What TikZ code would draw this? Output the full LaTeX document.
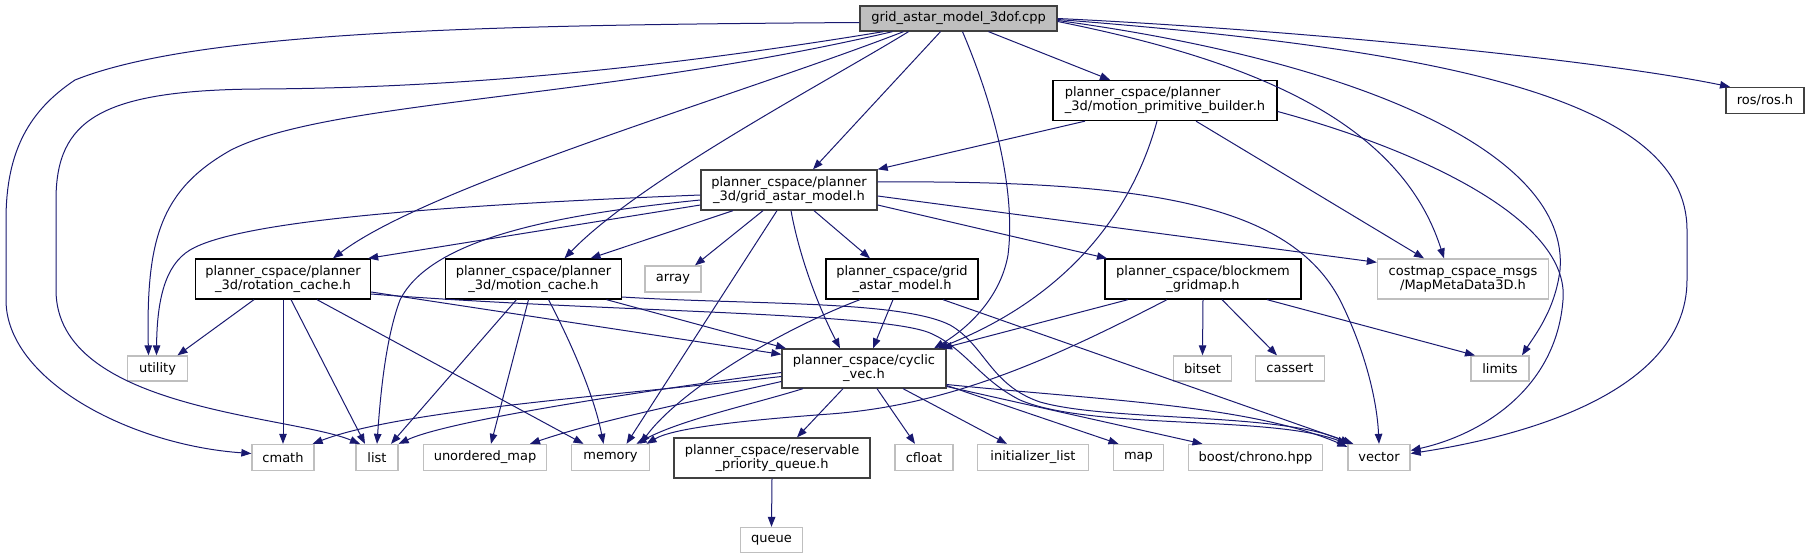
\documentclass[tikz,border=0pt]{standalone}
\usepackage{fontspec}
\setmainfont{DejaVu Sans}
\usepackage{tikz}
\usetikzlibrary{arrows.meta}
\definecolor{edgeblue}{HTML}{191970}
\definecolor{boxdark}{HTML}{404040}
\definecolor{boxgray}{HTML}{BFBFBF}
\tikzstyle{incl} = [draw=edgeblue, line width=1pt, -{Triangle[length=10pt,width=7.5pt]}]
\tikzstyle{incbox} = [draw=black, line width=1.3pt, fill=white, inner sep=0pt, align=center]
\tikzstyle{sysbox} = [incbox, draw=boxgray]
\tikzstyle{darkbox} = [incbox, draw=boxdark]
\tikzstyle{rootbox} = [incbox, draw=boxdark, fill=boxgray]

\begin{document}
\begin{tikzpicture}[x=1pt, y=-1pt, font=\fontsize{13}{14}\selectfont]

	\useasboundingbox (0,0) rectangle (1810,559);

	\def\ya{18.5}
	\def\yb{100.5}
	\def\yc{190}
	\def\yd{279}
	\def\ye{368.5}
	\def\yf{457.5}
	\def\yg{540}

	\node[rootbox, minimum width=197pt, minimum height=25pt] (root) at (958.5,\ya) {grid\_astar\_model\_3dof.cpp};

	\node[incbox, align=left, minimum width=224pt, minimum height=40pt] (mpb) at (1165,\yb) {planner\_cspace/planner\\\_3d/motion\_primitive\_builder.h};
	\node[darkbox, minimum width=78pt, minimum height=26pt] (ros) at (1765,\yb) {ros/ros.h};

	\node[darkbox, minimum width=176pt, minimum height=40pt] (gamtd) at (789,\yc) {planner\_cspace/planner\\\_3d/grid\_astar\_model.h};

	\node[incbox, minimum width=175pt, minimum height=40pt] (rot) at (283,\yd) {planner\_cspace/planner\\\_3d/rotation\_cache.h};
	\node[incbox, minimum width=176pt, minimum height=40pt] (mc) at (533.5,\yd) {planner\_cspace/planner\\\_3d/motion\_cache.h};
	\node[sysbox, minimum width=56pt, minimum height=26pt] (array) at (673,\yd) {array};
	\node[incbox, minimum width=152pt, minimum height=40pt] (gam) at (902,\yd) {planner\_cspace/grid\\\_astar\_model.h};
	\node[incbox, minimum width=196pt, minimum height=40pt] (bgm) at (1203,\yd) {planner\_cspace/blockmem\\\_gridmap.h};
	\node[sysbox, minimum width=171pt, minimum height=40pt] (costmap) at (1463,\yd) {costmap\_cspace\_msgs\\/MapMetaData3D.h};

	\node[sysbox, minimum width=60pt, minimum height=25pt] (utility) at (157.5,\ye) {utility};
	\node[darkbox, minimum width=164pt, minimum height=39pt] (cyclic) at (864,\ye) {planner\_cspace/cyclic\\\_vec.h};
	\node[sysbox, minimum width=58pt, minimum height=25pt] (bitset) at (1202.5,\ye) {bitset};
	\node[sysbox, minimum width=69pt, minimum height=25pt] (cassert) at (1290,\ye) {cassert};
	\node[sysbox, minimum width=58pt, minimum height=25pt] (limits) at (1500,\ye) {limits};

	\node[sysbox, minimum width=62pt, minimum height=26pt] (cmath) at (283,\yf) {cmath};
	\node[sysbox, minimum width=42pt, minimum height=26pt] (list) at (377,\yf) {list};
	\node[sysbox, minimum width=123pt, minimum height=26pt] (umap) at (485,\yf) {unordered\_map};
	\node[sysbox, minimum width=78pt, minimum height=26pt] (memory) at (610.5,\yf) {memory};
	\node[darkbox, minimum width=196pt, minimum height=40pt] (rpq) at (772,458) {planner\_cspace/reservable\\\_priority\_queue.h};
	\node[sysbox, minimum width=58pt, minimum height=26pt] (cfloat) at (924,\yf) {cfloat};
	\node[sysbox, minimum width=111pt, minimum height=26pt] (initlist) at (1033,\yf) {initializer\_list};
	\node[sysbox, minimum width=50pt, minimum height=26pt] (map) at (1138.5,\yf) {map};
	\node[sysbox, minimum width=134pt, minimum height=26pt] (chrono) at (1255.5,\yf) {boost/chrono.hpp};
	\node[sysbox, minimum width=62pt, minimum height=26pt] (vector) at (1379,\yf) {vector};

	\node[sysbox, minimum width=62pt, minimum height=25pt] (queue) at (771.5,\yg) {queue};

	% grid_astar_model_3dof.cpp
	\path[incl] ([yshift=-4pt]root.west) .. controls (500,25) and (200,30) .. (75,80) .. controls (30,110) and (6,150) .. (6,220) -- (6,300) .. controls (6,380) and (130,445) .. ([yshift=4pt]cmath.west);
	\path[incl] ([xshift=-75pt]root.south) .. controls (650,70) and (450,88) .. (260,89) .. controls (100,90) and (56,120) .. (56,200) -- (56,290) .. controls (56,410) and (290,415) .. ([xshift=-17pt]list.north);
	\path[incl] ([xshift=-66pt]root.south) .. controls (600,100) and (330,100) .. (231,150) .. controls (160,190) and (146,240) .. ([xshift=-9pt]utility.north);
	\path[incl] ([xshift=-55pt]root.south) .. controls (740,95) and (430,185) .. ([xshift=50pt]rot.north);
	\path[incl] ([xshift=-50pt]root.south) .. controls (830,80) and (640,180) .. ([xshift=31pt]mc.north);
	\path[incl] ([xshift=-18pt]root.south) -- ([xshift=24pt]gamtd.north);
	\path[incl] ([xshift=4pt]root.south) .. controls (1000,120) and (1015,200) .. (1008,255) .. controls (1000,300) and (965,330) .. ([xshift=70pt]cyclic.north);
	\path[incl] ([xshift=30pt]root.south) -- ([xshift=-55pt]mpb.north);
	\path[incl] ([yshift=-3pt]root.east) .. controls (1250,60) and (1400,120) .. ([xshift=-19pt]costmap.north);
	\path[incl] ([yshift=-2pt]root.east) .. controls (1350,60) and (1570,150) .. (1560,270) .. controls (1555,310) and (1535,335) .. ([xshift=22pt]limits.north);
	\path[incl] ([yshift=-1pt]root.east) .. controls (1450,50) and (1687,100) .. (1687,230) -- (1687,280) .. controls (1687,400) and (1500,440) .. ([yshift=4pt]vector.east);
	\path[incl] (root.east) .. controls (1300,30) and (1600,60) .. ([xshift=-35pt]ros.north);

	% motion_primitive_builder.h
	\path[incl] ([xshift=-80pt]mpb.south) -- (gamtd.north east);
	\path[incl] ([xshift=-8pt]mpb.south) .. controls (1130,220) and (1060,300) .. ([xshift=74pt]cyclic.north);
	\path[incl] ([xshift=31pt]mpb.south) -- ([xshift=-39pt]costmap.north);
	\path[incl] ([yshift=-11pt]mpb.east) .. controls (1420,150) and (1570,220) .. (1563,300) .. controls (1556,390) and (1480,435) .. ([yshift=7pt]vector.east);

	% planner_3d/grid_astar_model.h
	\path[incl] ([yshift=-5pt]gamtd.west) .. controls (450,205) and (240,220) .. (190,250) .. controls (165,265) and (157,300) .. ([xshift=-1pt]utility.north);
	\path[incl] ([yshift=-15pt]gamtd.west) -- ([xshift=-3pt]rot.north east);
	\path[incl] ([yshift=-10pt]gamtd.west) .. controls (550,215) and (430,240) .. (400,300) .. controls (385,340) and (380,400) .. (list.north);
	\path[incl] ([xshift=-56pt]gamtd.south) -- ([xshift=57pt]mc.north);
	\path[incl] ([xshift=-26pt]gamtd.south) -- ([xshift=22pt]array.north);
	\path[incl] ([xshift=-12pt]gamtd.south) -- ([xshift=16pt]memory.north);
	\path[incl] ([xshift=2pt]gamtd.south) .. controls (800,260) and (820,310) .. ([xshift=-24pt]cyclic.north);
	\path[incl] ([xshift=25pt]gamtd.south) -- ([xshift=-32pt]gam.north);
	\path[incl] ([yshift=-15pt]gamtd.east) -- ([xshift=-96pt]bgm.north);
	\path[incl] ([yshift=-6pt]gamtd.east) -- ([yshift=-4pt]costmap.north west);
	\path[incl] ([yshift=8pt]gamtd.east) .. controls (1150,180) and (1290,205) .. (1340,300) .. controls (1365,350) and (1377,400) .. (vector.north);

	% rotation_cache.h
	\path[incl] ([xshift=-29pt]rot.south) -- ([xshift=20pt]utility.north);
	\path[incl] (rot.south) -- (cmath.north);
	\path[incl] ([xshift=8pt]rot.south) -- ([xshift=-12pt]list.north);
	\path[incl] ([xshift=34pt]rot.south) -- ([xshift=-27pt]memory.north);
	\path[incl] ([yshift=-13pt]rot.east) -- ([yshift=-6pt]cyclic.north west);
	\path[incl] ([yshift=-15pt]rot.east) .. controls (600,312) and (880,312) .. (930,333) .. controls (965,348) and (980,380) .. (1020,400) .. controls (1090,430) and (1270,415) .. (vector.north west);

	% motion_cache.h
	\path[incl] ([xshift=-17pt]mc.south) -- ([xshift=14pt]list.north);
	\path[incl] ([xshift=-5pt]mc.south) -- ([xshift=6pt]umap.north);
	\path[incl] ([xshift=15pt]mc.south) .. controls (575,350) and (595,400) .. ([xshift=-7pt]memory.north);
	\path[incl] ([xshift=73pt]mc.south) -- ([xshift=-78pt]cyclic.north);
	\path[incl] ([yshift=-18pt]mc.east) .. controls (750,305) and (900,300) .. (950,325) .. controls (985,345) and (990,385) .. (1040,402) .. controls (1110,422) and (1280,412) .. ([xshift=3pt]vector.north west);

	% grid_astar_model.h
	\path[incl] ([xshift=-42pt]gam.south) .. controls (780,330) and (680,390) .. ([xshift=30pt]memory.north);
	\path[incl] ([xshift=-9pt]gam.south) -- ([xshift=9pt]cyclic.north);
	\path[incl] ([xshift=41pt]gam.south) -- ([xshift=6pt]vector.north west);

	% blockmem_gridmap.h
	\path[incl] ([xshift=-75pt]bgm.south) -- ([xshift=78pt]cyclic.north);
	\path[incl] ([xshift=-36pt]bgm.south) .. controls (1050,360) and (950,405) .. (830,414) .. controls (720,422) and (670,430) .. ([xshift=36pt]memory.north);
	\path[incl] (bgm.south) -- (bitset.north);
	\path[incl] ([xshift=19pt]bgm.south) -- ([xshift=-13pt]cassert.north);
	\path[incl] ([xshift=64pt]bgm.south) -- ([xshift=-25pt]limits.north);

	% cyclic_vec.h
	\path[incl] ([yshift=-8pt]cyclic.west) .. controls (620,395) and (400,410) .. ([xshift=-2pt]cmath.north east);
	\path[incl] ([yshift=-4pt]cyclic.west) .. controls (650,390) and (450,420) .. (list.north east);
	\path[incl] ([yshift=-13pt]cyclic.west) .. controls (700,400) and (600,420) .. ([xshift=45pt]umap.north);
	\path[incl] ([xshift=-61pt]cyclic.south) .. controls (750,405) and (680,420) .. ([xshift=26pt]memory.north);
	\path[incl] ([xshift=-21pt]cyclic.south) -- ([xshift=25pt]rpq.north);
	\path[incl] ([xshift=13pt]cyclic.south) -- ([xshift=-9pt]cfloat.north);
	\path[incl] ([xshift=39pt]cyclic.south) -- ([xshift=-26pt]initlist.north);
	\path[incl] ([yshift=-17pt]cyclic.east) -- ([xshift=-20pt]map.north);
	\path[incl] ([yshift=-18pt]cyclic.east) -- ([xshift=-53pt]chrono.north);
	\path[incl] ([yshift=-16pt]cyclic.east) .. controls (1100,400) and (1250,405) .. ([yshift=-3pt]vector.north west);

	% reservable_priority_queue.h
	\path[incl] (rpq.south) -- (queue.north);

\end{tikzpicture}
\end{document}
